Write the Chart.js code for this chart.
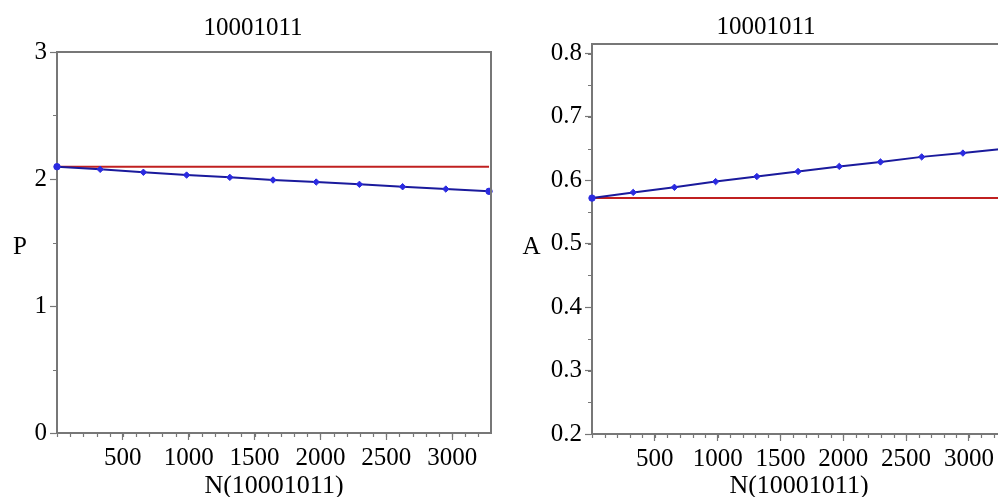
<!DOCTYPE html>
<html><head><meta charset="utf-8">
<script src="https://cdn.jsdelivr.net/npm/chart.js@4.4.1/dist/chart.umd.min.js"></script>
<style>
html,body{margin:0;padding:0;background:#fff;overflow:hidden;width:998px;height:497px;}
canvas{position:absolute;top:0;}
#c1{left:0;}
#c2{left:498px;}
</style></head><body>
<canvas id="c1" width="506" height="497"></canvas>
<canvas id="c2" width="536" height="497"></canvas>
<script>
// ---- data ----
const titleText = '10001011';
const xAxisLabel = 'N(10001011)';
const nValues = [0, 328, 656, 984, 1312, 1640, 1968, 2296, 2624, 2952, 3280];
const pValues = [2.097, 2.076, 2.053, 2.031, 2.013, 1.992, 1.976, 1.958, 1.939, 1.921, 1.903];
const pReference = 2.097;
const aValues = [0.572, 0.581, 0.589, 0.598, 0.606, 0.614, 0.622, 0.629, 0.637, 0.643, 0.650];
const aReference = 0.572;
const xTickValues = [500, 1000, 1500, 2000, 2500, 3000];
const pTickValues = [0, 1, 2, 3];
const aTickValues = [0.2, 0.3, 0.4, 0.5, 0.6, 0.7, 0.8];

const FONT = "'Liberation Serif', 'Times New Roman', serif";
const FRAME = '#777777';
const FS = 25;

const decorPlugin = {
  id: 'decor',
  afterDraw(chart, args, opts) {
    const ctx = chart.ctx, a = chart.chartArea;
    const xs = chart.scales.x, ys = chart.scales.y;
    ctx.save();
    // top & right frame
    ctx.strokeStyle = FRAME; ctx.lineWidth = 2;
    ctx.beginPath();
    ctx.moveTo(a.left, a.top); ctx.lineTo(a.right, a.top); ctx.lineTo(a.right, a.bottom);
    ctx.stroke();
    // minor ticks
    ctx.lineWidth = 1.2;
    ctx.beginPath();
    for (let v = xs.min; v <= xs.max; v += opts.xMinor) {
      const px = Math.round(xs.getPixelForValue(v)) + 0.5;
      ctx.moveTo(px, a.bottom); ctx.lineTo(px, a.bottom + 4);
    }
    for (let k = 0; ; k++) {
      const v = opts.yMinorStart + k * opts.yMinor;
      if (v > ys.max + 1e-9) break;
      const py = Math.round(ys.getPixelForValue(v)) + 0.5;
      ctx.moveTo(a.left - 4, py); ctx.lineTo(a.left, py);
    }
    ctx.stroke();
    // horizontal y-axis label
    ctx.fillStyle = '#000';
    ctx.font = FS + 'px ' + FONT;
    ctx.textAlign = 'center'; ctx.textBaseline = 'middle';
    ctx.fillText(opts.yLabel, opts.yLabelX, opts.yLabelY);
    ctx.restore();
  }
};

function makeChart(id, o) {
  new Chart(document.getElementById(id), {
    type: 'line',
    data: {
      datasets: [
        {
          data: nValues.map((x, i) => ({ x: x, y: o.values[i] })),
          borderColor: '#1a1a9c', borderWidth: 2, tension: 0,
          pointRadius: 3.2,
          pointStyle: c => (c.dataIndex === 0 || c.dataIndex === nValues.length - 1) ? 'circle' : 'rectRot',
          pointBackgroundColor: '#2b2be0', pointBorderColor: '#2b2be0', pointBorderWidth: 1,
          clip: false
        },
        {
          data: nValues.map(x => ({ x: x, y: o.reference })),
          borderColor: '#c02020', borderWidth: 2, tension: 0, pointRadius: 0, clip: false
        }
      ]
    },
    options: {
      responsive: false, animation: false, events: [],
      layout: { padding: { left: o.padLeft, right: o.padRight, top: 0, bottom: 0 } },
      plugins: {
        legend: { display: false }, tooltip: { enabled: false },
        title: {
          display: true, text: titleText, color: '#000',
          font: { family: FONT, size: FS, weight: 'normal', lineHeight: 1.2 },
          padding: { top: o.titleTop, bottom: o.titleBottom }
        },
        decor: o.decor
      },
      scales: {
        x: {
          type: 'linear', min: 0, max: 3295,
          afterBuildTicks: s => { s.ticks = xTickValues.map(v => ({ value: v })); },
          afterFit: s => { s.height = o.xHeight; },
          grid: { drawOnChartArea: false, drawTicks: true, tickLength: 7, tickColor: FRAME, tickWidth: 1.2 },
          border: { display: true, color: FRAME, width: 2 },
          ticks: { color: '#000', font: { family: FONT, size: FS }, padding: 3, maxRotation: 0, autoSkip: false,
                   callback: v => String(v) },
          title: { display: true, text: xAxisLabel, color: '#000',
                   font: { family: FONT, size: 26, lineHeight: 0.8 }, padding: { top: 0, bottom: 0 } }
        },
        y: {
          type: 'linear', min: o.yMin, max: o.yMax,
          afterBuildTicks: s => { s.ticks = o.tickValues.map(v => ({ value: v })); },
          afterFit: s => { s.width = o.yWidth; },
          grid: { drawOnChartArea: false, drawTicks: true, tickLength: 7, tickColor: FRAME, tickWidth: 1.2 },
          border: { display: true, color: FRAME, width: 2 },
          ticks: { color: '#000', font: { family: FONT, size: FS }, padding: 3, autoSkip: false,
                   callback: o.fmt }
        }
      }
    },
    plugins: [decorPlugin]
  });
}

makeChart('c1', {
  values: pValues, reference: pReference, tickValues: pTickValues,
  yMin: 0, yMax: 3, fmt: v => String(v),
  padLeft: 15, padRight: 15, yWidth: 42, xHeight: 64, titleTop: 13, titleBottom: 9,
  decor: { xMinor: 100, yMinor: 0.5, yMinorStart: 0, yLabel: 'P', yLabelX: 20, yLabelY: 247 }
});
makeChart('c2', {
  values: aValues, reference: aReference, tickValues: aTickValues,
  yMin: 0.2, yMax: 0.815, fmt: v => Number(v).toFixed(1),
  padLeft: 28, padRight: 28, yWidth: 66, xHeight: 63, titleTop: 12, titleBottom: 2,
  decor: { xMinor: 100, yMinor: 0.05, yMinorStart: 0.2, yLabel: 'A', yLabelX: 33.5, yLabelY: 247 }
});
</script>
</body></html>
